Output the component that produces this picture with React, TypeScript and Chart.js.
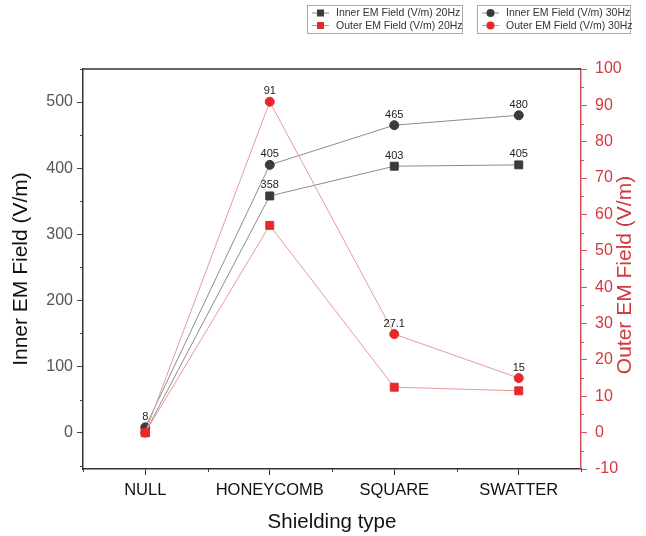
import React, { useEffect, useRef } from "react";
import { Chart, registerables } from "chart.js";

Chart.register(...registerables);

// Shielding configurations along the x axis
const categories = ["NULL", "HONEYCOMB", "SQUARE", "SWATTER"];

// Field strengths, V/m
const inner20Hz = [0, 358, 403, 405];
const inner30Hz = [8, 405, 465, 480];
const outer20Hz = [0, 57, 12.5, 11.5];
const outer30Hz = [0, 91, 27.1, 15];

// Which points carry a value label
const inner20HzLabelled = [false, true, true, true];
const inner30HzLabelled = [true, true, true, true];
const outer20HzLabelled = [false, false, false, false];
const outer30HzLabelled = [false, true, true, true];

// Axis ranges and ticks
const innerMin = -55;
const innerMax = 550;
const innerTicks = [0, 100, 200, 300, 400, 500];
const innerMinorTicks = [-50, 50, 150, 250, 350, 450, 550];
const outerMin = -10;
const outerMax = 100;
const outerTicks = [-10, 0, 10, 20, 30, 40, 50, 60, 70, 80, 90, 100];
const outerMinorTicks = [-5, 5, 15, 25, 35, 45, 55, 65, 75, 85, 95];

const FONT = "'Liberation Sans', Arial, Helvetica, sans-serif";
const DARK = "#3b3b3b";
const RED = "#e5292c";
const RED_AXIS = "#d2545a";
const RED_TEXT = "#cf3a3e";

const labelPlugin = {
  id: "pointValues",
  afterDatasetsDraw(chart: any) {
    const ctx = chart.ctx;
    const flags = [inner20HzLabelled, inner30HzLabelled, outer20HzLabelled, outer30HzLabelled];
    ctx.save();
    ctx.font = `11px ${FONT}`;
    ctx.fillStyle = "#222";
    ctx.textAlign = "center";
    ctx.textBaseline = "bottom";
    chart.data.datasets.forEach((ds: any, di: number) => {
      const meta = chart.getDatasetMeta(di);
      meta.data.forEach((pt: any, i: number) => {
        if (!flags[di][i]) return;
        ctx.fillText(String(ds.data[i]), pt.x, pt.y - 5);
      });
    });
    ctx.restore();
  },
};

const framePlugin = {
  id: "frame",
  afterDraw(chart: any) {
    const ctx = chart.ctx;
    const { left, right, top, bottom } = chart.chartArea;
    const y = chart.scales.y;
    const y1 = chart.scales.y1;
    const x = chart.scales.x;
    ctx.save();
    // top border
    ctx.strokeStyle = "#333";
    ctx.lineWidth = 1.5;
    ctx.beginPath();
    ctx.moveTo(left, top);
    ctx.lineTo(right, top);
    ctx.stroke();

    // minor ticks
    ctx.lineWidth = 1;
    ctx.strokeStyle = "#444";
    ctx.beginPath();
    innerMinorTicks.forEach((v) => {
      const py = Math.round(y.getPixelForValue(v)) + 0.5;
      ctx.moveTo(left, py);
      ctx.lineTo(left - 3, py);
    });
    for (let i = 0; i <= categories.length; i++) {
      const px = Math.round(left + ((right - left) * i) / categories.length) + 0.5;
      ctx.moveTo(px, bottom);
      ctx.lineTo(px, bottom + 3);
    }
    ctx.stroke();
    ctx.strokeStyle = RED_AXIS;
    ctx.beginPath();
    outerMinorTicks.forEach((v) => {
      const py = Math.round(y1.getPixelForValue(v)) + 0.5;
      ctx.moveTo(right, py);
      ctx.lineTo(right + 3, py);
    });
    ctx.stroke();

    // axis titles
    ctx.font = `21px ${FONT}`;
    ctx.textAlign = "center";
    ctx.textBaseline = "middle";
    ctx.fillStyle = "#111";
    ctx.save();
    ctx.translate(21, (top + bottom) / 2);
    ctx.rotate(-Math.PI / 2);
    ctx.fillText("Inner EM Field (V/m)", 0, 0);
    ctx.restore();
    ctx.fillStyle = RED_TEXT;
    ctx.save();
    ctx.translate(625, (top + bottom) / 2 + 6);
    ctx.rotate(-Math.PI / 2);
    ctx.fillText("Outer EM Field (V/m)", 0, 0);
    ctx.restore();
    ctx.fillStyle = "#111";
    ctx.font = `20.5px ${FONT}`;
    ctx.fillText("Shielding type", (x.left + x.right) / 2, 522);

    // legend boxes
    const boxes = [
      { x: 307, w: 155, items: [
        { label: "Inner EM Field (V/m) 20Hz", color: DARK, shape: "rect" },
        { label: "Outer EM Field (V/m) 20Hz", color: RED, shape: "rect" },
      ] },
      { x: 477, w: 153, items: [
        { label: "Inner EM Field (V/m) 30Hz", color: DARK, shape: "circle" },
        { label: "Outer EM Field (V/m) 30Hz", color: RED, shape: "circle" },
      ] },
    ];
    boxes.forEach((b) => {
      ctx.strokeStyle = "#aaa";
      ctx.lineWidth = 1;
      ctx.strokeRect(b.x + 0.5, 5.5, b.w, 28);
      b.items.forEach((it, k) => {
        const cy = 13 + k * 12.5;
        ctx.strokeStyle = it.color === RED ? "#e88" : "#888";
        ctx.beginPath();
        ctx.moveTo(b.x + 5, cy);
        ctx.lineTo(b.x + 22, cy);
        ctx.stroke();
        ctx.fillStyle = it.color;
        if (it.shape === "rect") {
          ctx.fillRect(b.x + 10, cy - 3.5, 7, 7);
        } else {
          ctx.beginPath();
          ctx.arc(b.x + 13.5, cy, 4, 0, Math.PI * 2);
          ctx.fill();
        }
        ctx.fillStyle = "#333";
        ctx.font = `10.5px ${FONT}`;
        ctx.textAlign = "left";
        ctx.fillText(it.label, b.x + 29, cy + 0.5);
      });
    });
    ctx.restore();
  },
};

export default function App() {
  const canvasRef = useRef<HTMLCanvasElement | null>(null);

  useEffect(() => {
    const canvas = canvasRef.current;
    if (!canvas) return;
    const chart = new Chart(canvas, {
      type: "line",
      data: {
        labels: categories,
        datasets: [
          {
            label: "Inner EM Field (V/m) 20Hz",
            data: inner20Hz,
            yAxisID: "y",
            borderColor: "#8c8c8c",
            borderWidth: 1,
            backgroundColor: DARK,
            pointBackgroundColor: DARK,
            pointBorderColor: DARK,
            pointStyle: "rect",
            pointRadius: 5.6,
            order: 1,
          },
          {
            label: "Inner EM Field (V/m) 30Hz",
            data: inner30Hz,
            yAxisID: "y",
            borderColor: "#8c8c8c",
            borderWidth: 1,
            backgroundColor: DARK,
            pointBackgroundColor: DARK,
            pointBorderColor: DARK,
            pointStyle: "circle",
            pointRadius: 4.5,
            order: 1,
          },
          {
            label: "Outer EM Field (V/m) 20Hz",
            data: outer20Hz,
            yAxisID: "y1",
            borderColor: "#e79a9a",
            borderWidth: 1,
            backgroundColor: RED,
            pointBackgroundColor: RED,
            pointBorderColor: RED,
            pointStyle: "rect",
            pointRadius: 5.6,
            order: 0,
          },
          {
            label: "Outer EM Field (V/m) 30Hz",
            data: outer30Hz,
            yAxisID: "y1",
            borderColor: "#e79a9a",
            borderWidth: 1,
            backgroundColor: RED,
            pointBackgroundColor: RED,
            pointBorderColor: RED,
            pointStyle: "circle",
            pointRadius: 4.5,
            order: 0,
          },
        ],
      },
      options: {
        animation: false,
        responsive: false,
        layout: { padding: { top: 69, left: 0, right: 0, bottom: 0 } },
        plugins: {
          legend: { display: false },
          tooltip: { enabled: false },
        },
        scales: {
          x: {
            type: "category",
            offset: true,
            grid: {
              drawOnChartArea: false,
              drawTicks: true,
              tickLength: 6,
              color: "#333",
              offset: false,
            },
            border: { color: "#333", width: 1.5 },
            ticks: {
              color: "#111",
              font: { family: FONT, size: 16.5 },
              padding: 6,
              maxRotation: 0,
            },
            afterFit: (s: any) => {
              s.height = 67;
            },
          },
          y: {
            type: "linear",
            position: "left",
            min: innerMin,
            max: innerMax,
            afterBuildTicks: (s: any) => {
              s.ticks = innerTicks.map((v) => ({ value: v }));
            },
            grid: {
              drawOnChartArea: false,
              drawTicks: true,
              tickLength: 6,
              color: "#444",
            },
            border: { color: "#333", width: 1.5 },
            ticks: {
              color: "#555",
              font: { family: FONT, size: 16 },
              padding: 4,
            },
            afterFit: (s: any) => {
              s.width = 83;
            },
          },
          y1: {
            type: "linear",
            position: "right",
            min: outerMin,
            max: outerMax,
            afterBuildTicks: (s: any) => {
              s.ticks = outerTicks.map((v) => ({ value: v }));
            },
            grid: {
              drawOnChartArea: false,
              drawTicks: true,
              tickLength: 6,
              color: RED_AXIS,
            },
            border: { color: RED_AXIS, width: 1.5 },
            ticks: {
              color: RED_TEXT,
              font: { family: FONT, size: 16 },
              padding: 8,
            },
            afterFit: (s: any) => {
              s.width = 65;
            },
          },
        },
      },
      plugins: [labelPlugin, framePlugin],
    });
    return () => chart.destroy();
  }, []);

  return (
    <div style={{ position: "fixed", left: 0, top: 0, width: 646, height: 536, background: "#fff" }}>
      <canvas ref={canvasRef} width={646} height={536} style={{ display: "block" }} />
    </div>
  );
}
